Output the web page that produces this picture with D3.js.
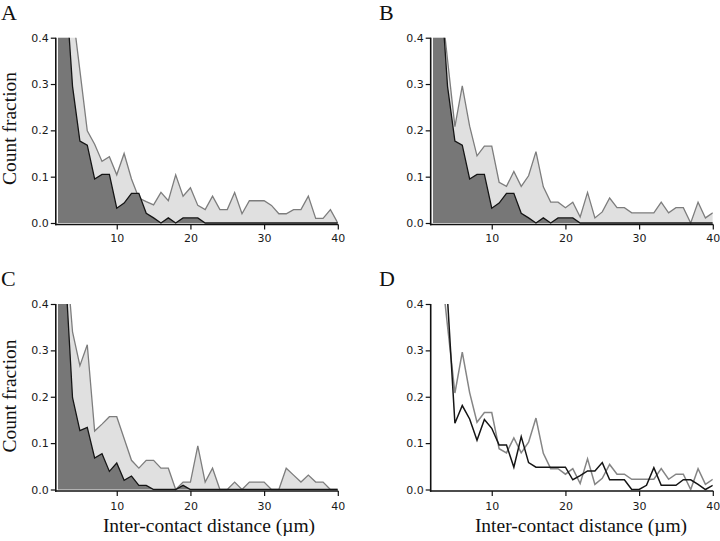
<!DOCTYPE html>
<html>
<head>
<meta charset="utf-8">
<script src="https://cdn.jsdelivr.net/npm/d3@7"></script>
<style>
  html, body { margin: 0; padding: 0; background: #fff; }
  svg { display: block; }
</style>
</head>
<body>
<svg id="chart" width="720" height="541"></svg>
<script>
// ---- data (x = inter-contact distance bins, µm) ----
const distances = d3.range(2, 41); // 2..40

const aDark = [0.65,0.53,0.295,0.177,0.168,0.095,0.105,0.105,0.032,0.043,0.064,0.064,0.021,0.011,0.0,0.011,0.0,0.011,0.011,0.011,0,0,0,0,0,0,0,0,0,0,0,0,0,0,0,0,0,0,0];
const aLight = [0.75,0.6,0.458,0.329,0.199,0.17,0.133,0.143,0.104,0.15,0.095,0.054,0.046,0.039,0.066,0.048,0.104,0.058,0.076,0.038,0.029,0.058,0.029,0.029,0.066,0.02,0.048,0.048,0.048,0.038,0.02,0.02,0.029,0.029,0.058,0.01,0.01,0.029,0];

const bDark = aDark.slice();
const bLight = [0.65,0.5,0.352,0.208,0.296,0.209,0.145,0.166,0.166,0.088,0.079,0.111,0.079,0.102,0.154,0.078,0.045,0.045,0.033,0.045,0.013,0.066,0.011,0.024,0.054,0.033,0.033,0.022,0.022,0.022,0.022,0.045,0.022,0.033,0.033,0,0.045,0.011,0.022];

const cDark = [0.65,0.479,0.198,0.127,0.134,0.068,0.077,0.039,0.057,0.02,0.029,0.009,0.009,0,0,0,0,0.009,0,0,0,0,0,0,0,0,0,0,0,0,0,0,0,0,0,0,0,0,0];
const cLight = [0.7,0.534,0.34,0.267,0.312,0.126,0.141,0.157,0.157,0.11,0.063,0.046,0.063,0.063,0.046,0.046,0,0.016,0.016,0.094,0.016,0.046,0,0,0.016,0,0.016,0.016,0.016,0,0,0.046,0.031,0.016,0.031,0.016,0.016,0,0];

const dBlack = [0.7,0.55,0.41,0.143,0.181,0.152,0.106,0.151,0.132,0.096,0.096,0.048,0.114,0.058,0.048,0.048,0.048,0.048,0.048,0.021,0.03,0.04,0.04,0.058,0.021,0.021,0.021,0,0,0.009,0.047,0.009,0.009,0.009,0.021,0.021,0.011,0,0.009];
const dGray = bLight.slice();

const yTicks = [0, 0.1, 0.2, 0.3, 0.4];
const xTicks = [10, 20, 30, 40];
const panelLabels = ["A", "B", "C", "D"];
const yTitle = "Count fraction";
const xTitle = "Inter-contact distance (\u00b5m)";

// ---- layout ----
const svg = d3.select("#chart");
const serif = "'Liberation Serif', 'Times New Roman', serif";
const sans = "'DejaVu Sans', Verdana, sans-serif";

const cols = [{ax: 55.8, x0: 57.8, x1: 337.8}, {ax: 430.7, x0: 432.8, x1: 712.8}];
const rows = [{top: 37.7, zero: 223, axis: 224.5}, {top: 304, zero: 489.5, axis: 491}];

const panels = [
  {label: "A", c: 0, r: 0, mode: "area", light: aLight, dark: aDark},
  {label: "B", c: 1, r: 0, mode: "area", light: bLight, dark: bDark},
  {label: "C", c: 0, r: 1, mode: "area", light: cLight, dark: cDark},
  {label: "D", c: 1, r: 1, mode: "line", light: dGray, dark: dBlack}
];

panels.forEach((p, i) => {
  const col = cols[p.c], row = rows[p.r];
  const x = d3.scaleLinear().domain([2, 40]).range([col.x0, col.x1]);
  const y = d3.scaleLinear().domain([0, 0.4]).range([row.zero, row.top]);
  const g = svg.append("g");

  const clipId = "clip" + i;
  svg.append("clipPath").attr("id", clipId)
    .append("rect")
    .attr("x", x(2)).attr("y", y(0.4))
    .attr("width", x(40) - x(2)).attr("height", y(0) - y(0.4) + 1);

  const dg = g.append("g").attr("clip-path", `url(#${clipId})`);
  const lightData = distances.map((d, k) => [d, p.light[k]]);
  const darkData = distances.map((d, k) => [d, p.dark[k]]);
  const area = d3.area().x(d => x(d[0])).y0(y(0)).y1(d => y(d[1]));
  const line = d3.line().x(d => x(d[0])).y(d => y(d[1]));

  if (p.mode === "area") {
    dg.append("path").attr("d", area(lightData)).attr("fill", "#e0e0e0");
    dg.append("path").attr("d", line(lightData)).attr("fill", "none")
      .attr("stroke", "#7d7d7d").attr("stroke-width", 1.3).attr("stroke-linejoin", "miter");
    dg.append("path").attr("d", area(darkData)).attr("fill", "#777777");
    dg.append("path").attr("d", line(darkData)).attr("fill", "none")
      .attr("stroke", "#151515").attr("stroke-width", 1.3);
  } else {
    dg.append("path").attr("d", line(lightData)).attr("fill", "none")
      .attr("stroke", "#858585").attr("stroke-width", 1.5);
    dg.append("path").attr("d", line(darkData)).attr("fill", "none")
      .attr("stroke", "#151515").attr("stroke-width", 1.5);
  }

  // axes
  const yAxis = d3.axisLeft(y).tickValues(yTicks).tickFormat(d3.format(".1f"))
    .tickSize(5).tickSizeOuter(0).tickPadding(2);
  const ya = g.append("g").attr("transform", `translate(${col.ax},0)`).call(yAxis);
  ya.select(".domain").remove();
  const xAxis = d3.axisBottom(x).tickValues(xTicks).tickFormat(d3.format("d"))
    .tickSize(5).tickSizeOuter(0).tickPadding(p.r === 0 ? 5 : 6);
  const xa = g.append("g").attr("transform", `translate(0,${row.axis})`).call(xAxis);
  xa.select(".domain").remove();
  [ya, xa].forEach(a => {
    a.selectAll("text").attr("font-family", sans).attr("font-size", 11).attr("fill", "#1a1a1a");
    a.selectAll("line").attr("stroke", "#111").attr("stroke-width", 1.2);
  });
  g.append("line").attr("x1", col.ax).attr("x2", col.ax)
    .attr("y1", y(0.4)).attr("y2", row.axis + 0.8)
    .attr("stroke", "#111").attr("stroke-width", 1.6);
  g.append("line").attr("x1", col.ax - 0.8).attr("x2", x(40) + 0.5)
    .attr("y1", row.axis).attr("y2", row.axis)
    .attr("stroke", "#111").attr("stroke-width", 1.6);

  // panel label
  svg.append("text").text(panelLabels[i])
    .attr("x", p.c === 0 ? 1 : 379).attr("y", p.r === 0 ? 20 : 286)
    .attr("font-family", serif).attr("font-size", 22).attr("fill", "#111");

  // y title on left column
  if (p.c === 0) {
    const cy = p.r === 0 ? 128.5 : 396;
    svg.append("text").text(yTitle)
      .attr("transform", `translate(16,${cy}) rotate(-90)`)
      .attr("text-anchor", "middle")
      .attr("font-family", serif).attr("font-size", 19.5).attr("fill", "#111");
  }
  // x title on bottom row
  if (p.r === 1) {
    svg.append("text").text(xTitle)
      .attr("x", p.c === 0 ? 209 : 581).attr("y", 532)
      .attr("text-anchor", "middle")
      .attr("font-family", serif).attr("font-size", 19.5).attr("fill", "#111");
  }
});
</script>
</body>
</html>
